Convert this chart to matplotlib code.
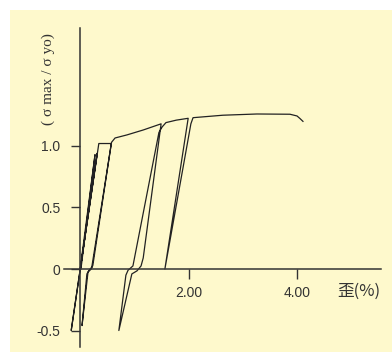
import matplotlib.pyplot as plt
from matplotlib.patches import Rectangle

# strain (%) and normalised stress, in loading order
strain = [0.01, 0.27, -0.01, 0.31, -0.17, 0.34, 0.57,
          0.23, 0.20, 0.14, 0.03, 0.12, 0.16, 0.21, 0.575,
          0.64, 0.86, 1.16, 1.49,
          1.16, 1.12, 1.045, 0.95, 0.71, 0.84, 0.88, 0.97,
          1.45, 1.51, 1.58, 1.77, 1.99,
          1.56, 2.04, 2.08, 2.63, 3.26, 3.87, 4.00, 4.05, 4.11]
stress = [0.00, 0.93, -0.02, 0.94, -0.50, 1.02, 1.02,
          0.03, 0.00, -0.025, -0.46, -0.04, -0.01, 0.015, 1.03,
          1.065, 1.09, 1.13, 1.18,
          0.09, 0.025, -0.015, -0.04, -0.50, -0.05, -0.01, 0.025,
          1.11, 1.155, 1.19, 1.21, 1.225,
          0.00, 1.18, 1.23, 1.25, 1.26, 1.258, 1.244, 1.225, 1.20]

y_ticks = [-0.5, 0, 0.5, 1.0]
y_labels = ['-0.5', '0', '0.5', '1.0']
x_ticks = [2, 4]
x_labels = ['2.00', '4.00']

W, H = 392, 352
fig = plt.figure(figsize=(W / 100, H / 100), dpi=100)
fig.patch.set_facecolor('white')
fig.patches.append(Rectangle((10 / W, 0), 1, 1 - 10 / H, transform=fig.transFigure,
                             facecolor='#fef9cc', edgecolor='none', zorder=-5))

ax = fig.add_axes([64 / W, 5 / H, 317 / W, 319 / H])
ax.set_zorder(2)
ax.set_facecolor('none')
ax.plot(strain, stress, color='#222222', lw=0.9)

ax.set_xlim(-0.303, 5.551)
ax.set_ylim(-0.634, 1.959)

for s in ['top', 'right']:
    ax.spines[s].set_visible(False)
ax.spines['left'].set_position(('data', 0))
ax.spines['bottom'].set_position(('data', 0))
for s in ['left', 'bottom']:
    ax.spines[s].set_color('#333333')
    ax.spines[s].set_linewidth(1.1)

ax.set_yticks(y_ticks)
ax.set_yticklabels(y_labels)
ax.set_xticks(x_ticks)
ax.set_xticklabels(x_labels)
ax.tick_params(axis='y', direction='out', length=6.5, width=1.0, color='#333333',
               pad=8, labelsize=10, labelcolor='#333333')
ax.tick_params(axis='x', direction='out', length=7, width=1.0, color='#333333',
               pad=5, labelsize=10, labelcolor='#333333')
for lab in ax.get_xticklabels() + ax.get_yticklabels():
    lab.set_family('Liberation Sans')

fig.text(48 / W, 1 - 79 / H, '( σ max / σ yo)', rotation=90, ha='center', va='center',
         fontsize=11, family=['Liberation Serif', 'DejaVu Serif'], color='#333333')
fig.text(359 / W, 1 - 291 / H, '歪(%)', ha='center', va='center', fontsize=12,
         family=['Noto Sans CJK JP', 'DejaVu Sans'], color='#333333')

fig.savefig('out.png', dpi=100, facecolor='white')
